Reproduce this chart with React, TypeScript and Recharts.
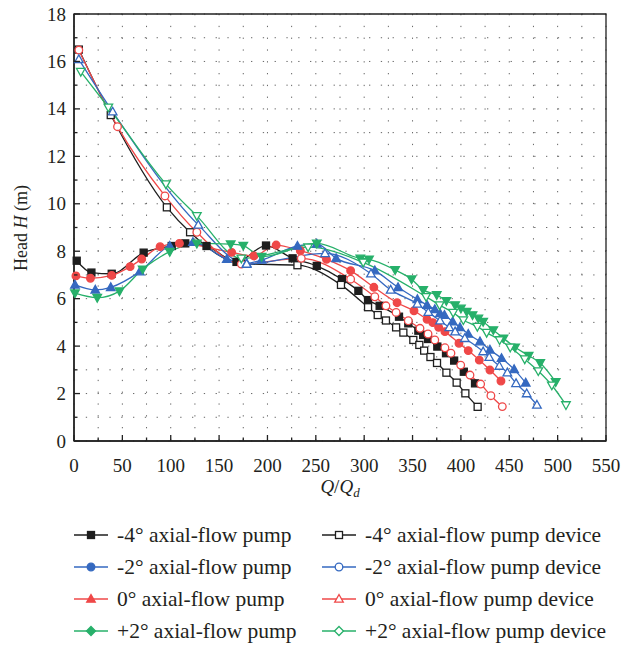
import React from 'react';
import {
  LineChart,
  Line,
  XAxis,
  YAxis,
  CartesianGrid,
  ReferenceArea,
} from 'recharts';

// Q/Qd vs head
const pumpM4 = [
  [2.8, 7.6], [18, 7.1], [39, 7.05], [72, 7.94], [101, 8.22], [115, 8.33], [137, 8.22],
  [168, 7.55], [198.5, 8.24], [226, 7.7], [251, 7.38], [277, 6.82], [294, 6.33], [304, 5.94],
  [316, 5.7], [336, 5.24], [345.6, 4.96], [356, 4.65], [361, 4.47], [366, 4.3], [375.6, 3.98],
  [384.6, 3.7], [393, 3.39], [403, 2.92], [414.6, 2.43],
];
const deviceM4 = [
  [5, 16.5], [38, 13.74], [96, 9.85], [120, 8.8], [175, 7.47], [231, 7.41], [276, 6.58],
  [304, 5.64], [314, 5.31], [322.5, 5.08], [333, 4.79], [340.5, 4.57], [350.8, 4.26],
  [357, 4.05], [362, 3.81], [368.5, 3.54], [375.3, 3.29], [385, 2.88], [395.6, 2.46],
  [404.6, 2.01], [417.3, 1.44],
];
const pumpM2 = [
  [1, 6.58], [22, 6.37], [38, 6.48], [68, 7.14], [99, 8.22], [123, 8.38], [158, 7.67],
  [178.5, 7.49], [194, 7.63], [231, 8.22], [251, 8.31], [271, 7.7], [311, 7.18], [335, 6.48],
  [355, 5.97], [365, 5.73], [373, 5.55], [378.4, 5.38], [383, 5.31], [391.5, 5.03], [399, 4.79],
  [407.6, 4.51], [419.7, 4.19], [430, 3.84], [442, 3.49], [455, 3.02], [467, 2.45],
];
const deviceM2 = [
  [5, 16.09], [40, 13.88], [128.5, 9.11], [178.5, 7.46], [259.5, 7.91], [307, 7.05],
  [327.4, 6.37], [355, 5.78], [366.3, 5.43], [378.4, 5.07], [388, 4.79], [394, 4.61],
  [404, 4.33], [423, 3.77], [429.3, 3.53], [439.7, 3.16], [448, 2.88], [457, 2.43],
  [468, 2.0], [478.6, 1.52],
];
const pump0 = [
  [2, 6.96], [17, 6.86], [39, 6.98], [58, 7.35], [70, 7.67], [89, 8.19], [109, 8.33],
  [163, 7.95], [186, 7.8], [209, 8.26], [234, 8.02], [261, 7.66], [286, 7.18], [310, 6.48],
  [334, 5.83], [351.5, 5.49], [365, 5.13], [371, 4.99], [377, 4.79], [383.5, 4.61], [398, 4.12],
  [407.6, 3.81], [419, 3.41], [430, 2.99], [441.4, 2.53],
];
const device0 = [
  [5, 16.48], [45, 13.25], [94, 10.33], [127, 8.8], [173, 7.46], [235, 7.7], [286, 6.82],
  [311, 6.08], [322.5, 5.7], [333, 5.42], [345.6, 5.07], [357.7, 4.75], [366, 4.51],
  [373, 4.26], [383.5, 3.93], [389.7, 3.7], [399.8, 3.2], [409.4, 2.78], [420.4, 2.4],
  [431, 1.91], [442.8, 1.45],
];
const pumpP2 = [
  [1, 6.23], [24, 6.04], [47, 6.32], [71, 7.24], [99, 7.98], [127, 8.33], [162, 8.3],
  [175, 8.24], [194, 7.77], [251, 8.33], [296, 7.7], [305, 7.66], [332, 7.21], [349, 6.82],
  [361, 6.37], [375, 6.16], [385, 5.91], [394, 5.73], [400, 5.59], [406, 5.45], [412, 5.31],
  [418, 5.17], [423, 5.03], [433.5, 4.68], [444, 4.33], [456, 3.95], [470, 3.6], [482, 3.29],
  [498, 2.49],
];
const deviceP2 = [
  [7, 15.57], [35.5, 14.07], [95, 10.83], [127, 9.49], [173, 7.7], [242, 8.17], [299, 7.53],
  [364, 6.08], [378, 5.73], [392, 5.41], [402.5, 5.1], [417, 4.82], [426.6, 4.57],
  [440, 4.26], [451, 3.95], [466, 3.45], [480, 2.95], [494, 2.35], [508.6, 1.52],
];

const xTicks = Array.from({ length: 23 }, (_, i) => i * 25);
const yTicks = Array.from({ length: 19 }, (_, i) => i);

const BLACK = '#1e1e1e';
const BLUE = '#3569c0';
const RED = '#ef4848';
const GREEN = '#27b06a';
const FONT = '"Liberation Serif", "Times New Roman", serif';

type Shape = 'square' | 'circle' | 'up' | 'down' | 'diamond';

function Marker({ cx, cy, shape, color, filled }: { cx: number; cy: number; shape: Shape; color: string; filled: boolean }) {
  const fill = filled ? color : '#fff';
  const sw = 1.3;
  if (shape === 'square')
    return <rect x={cx - 3.5} y={cy - 3.5} width={7} height={7} fill={fill} stroke={color} strokeWidth={sw} />;
  if (shape === 'circle') return <circle cx={cx} cy={cy} r={3.8} fill={fill} stroke={color} strokeWidth={sw} />;
  if (shape === 'up')
    return <path d={`M${cx},${cy - 4.5}L${cx + 4.3},${cy + 3.2}L${cx - 4.3},${cy + 3.2}Z`} fill={fill} stroke={color} strokeWidth={sw} />;
  if (shape === 'down')
    return <path d={`M${cx},${cy + 4.5}L${cx + 4.3},${cy - 3.2}L${cx - 4.3},${cy - 3.2}Z`} fill={fill} stroke={color} strokeWidth={sw} />;
  return <path d={`M${cx},${cy - 4.5}L${cx + 4.5},${cy}L${cx},${cy + 4.5}L${cx - 4.5},${cy}Z`} fill={fill} stroke={color} strokeWidth={sw} />;
}

const toRows = (pts: number[][]) => pts.map(([q, h]) => ({ q, h }));

const series = [
  { name: 'pumpM4', data: pumpM4, color: BLACK, shape: 'square' as Shape, filled: true },
  { name: 'deviceM4', data: deviceM4, color: BLACK, shape: 'square' as Shape, filled: false },
  { name: 'pump0', data: pump0, color: RED, shape: 'circle' as Shape, filled: true },
  { name: 'device0', data: device0, color: RED, shape: 'circle' as Shape, filled: false },
  { name: 'pumpM2', data: pumpM2, color: BLUE, shape: 'up' as Shape, filled: true },
  { name: 'deviceM2', data: deviceM2, color: BLUE, shape: 'up' as Shape, filled: false },
  { name: 'pumpP2', data: pumpP2, color: GREEN, shape: 'down' as Shape, filled: true },
  { name: 'deviceP2', data: deviceP2, color: GREEN, shape: 'down' as Shape, filled: false },
];

const legendItems = [
  { label: '-4° axial-flow pump', color: BLACK, shape: 'square' as Shape, filled: true },
  { label: '-4° axial-flow pump device', color: BLACK, shape: 'square' as Shape, filled: false },
  { label: '-2° axial-flow pump', color: BLUE, shape: 'circle' as Shape, filled: true },
  { label: '-2° axial-flow pump device', color: BLUE, shape: 'circle' as Shape, filled: false },
  { label: '0° axial-flow pump', color: RED, shape: 'up' as Shape, filled: true },
  { label: '0° axial-flow pump device', color: RED, shape: 'up' as Shape, filled: false },
  { label: '+2° axial-flow pump', color: GREEN, shape: 'diamond' as Shape, filled: true },
  { label: '+2° axial-flow pump device', color: GREEN, shape: 'diamond' as Shape, filled: false },
];

function XTick(props: any) {
  const { x, y, payload } = props;
  const major = payload.value % 50 === 0;
  return (
    <g>
      <line x1={x} y1={y} x2={x} y2={y - (major ? 6 : 3.5)} stroke="#222" strokeWidth={1.3} />
      {major && (
        <text x={x} y={y + 31} textAnchor="middle" fontSize={19} fontFamily={FONT} fill="#231f20">
          {payload.value}
        </text>
      )}
    </g>
  );
}

function YTick(props: any) {
  const { x, y, payload } = props;
  const major = payload.value % 2 === 0;
  return (
    <g>
      <line x1={x} y1={y} x2={x + (major ? 6 : 3.5)} y2={y} stroke="#222" strokeWidth={1.3} />
      {major && (
        <text x={x - 8} y={y + 6.5} textAnchor="end" fontSize={19} fontFamily={FONT} fill="#231f20">
          {payload.value}
        </text>
      )}
    </g>
  );
}

function YTitle() {
  return (
    <text transform="translate(27,228) rotate(-90)" textAnchor="middle" fontSize={18} fontFamily={FONT} fill="#231f20">
      Head <tspan fontStyle="italic">H</tspan> (m)
    </text>
  );
}

function XTitle() {
  return (
    <text x={340} y={493} textAnchor="middle" fontSize={19} fontFamily={FONT} fill="#231f20">
      <tspan fontStyle="italic">Q</tspan>/<tspan fontStyle="italic">Q</tspan>
      <tspan fontStyle="italic" fontSize={13} dy={4}>d</tspan>
    </text>
  );
}

export default function App() {
  return (
    <div style={{ position: 'absolute', left: 0, top: 0, width: 621, height: 646, background: '#fff' }}>
      <LineChart width={621} height={500} margin={{ top: 14, right: 15, bottom: 0, left: 0 }}>
        <CartesianGrid stroke="#666" strokeDasharray="1.3 10.5" strokeWidth={1} />
        <XAxis
          dataKey="q"
          type="number"
          domain={[0, 550]}
          ticks={xTicks}
          interval={0}
          allowDuplicatedCategory={false}
          tickSize={0}
          tickMargin={0}
          tickLine={false}
          tick={<XTick />}
          axisLine={{ stroke: '#222', strokeWidth: 1.5 }}
          height={59}
          label={<XTitle />}
        />
        <YAxis
          dataKey="h"
          type="number"
          domain={[0, 18]}
          ticks={yTicks}
          interval={0}
          tickSize={0}
          tickMargin={0}
          tickLine={false}
          tick={<YTick />}
          axisLine={{ stroke: '#222', strokeWidth: 1.5 }}
          width={74}
          label={<YTitle />}
        />
        <ReferenceArea x1={0} x2={550} y1={0} y2={18} fill="none" stroke="#222" strokeWidth={1.3} />
        {series.map((s) => (
          <Line
            key={s.name}
            data={toRows(s.data)}
            dataKey="h"
            type="monotone"
            stroke={s.color}
            strokeWidth={1.3}
            isAnimationActive={false}
            dot={(p: any) => (
              <Marker key={`${s.name}-${p.index}`} cx={p.cx} cy={p.cy} shape={s.shape} color={s.color} filled={s.filled} />
            )}
            activeDot={false}
          />
        ))}
      </LineChart>
      {legendItems.map((it, i) => {
        const col = i % 2;
        const row = Math.floor(i / 2);
        const left = col === 0 ? 74 : 322;
        const top = 535 + row * 32;
        return (
          <div
            key={it.label}
            style={{ position: 'absolute', left, top: top - 12, height: 24, display: 'flex', alignItems: 'center', whiteSpace: 'nowrap' }}
          >
            <svg width={36} height={24} style={{ display: 'block' }}>
              <line x1={0} y1={12} x2={34} y2={12} stroke={it.color} strokeWidth={1.3} />
              <Marker cx={17} cy={12} shape={it.shape} color={it.color} filled={it.filled} />
            </svg>
            <span style={{ marginLeft: 7, fontFamily: FONT, fontSize: 21.5, color: '#231f20' }}>{it.label}</span>
          </div>
        );
      })}
    </div>
  );
}
